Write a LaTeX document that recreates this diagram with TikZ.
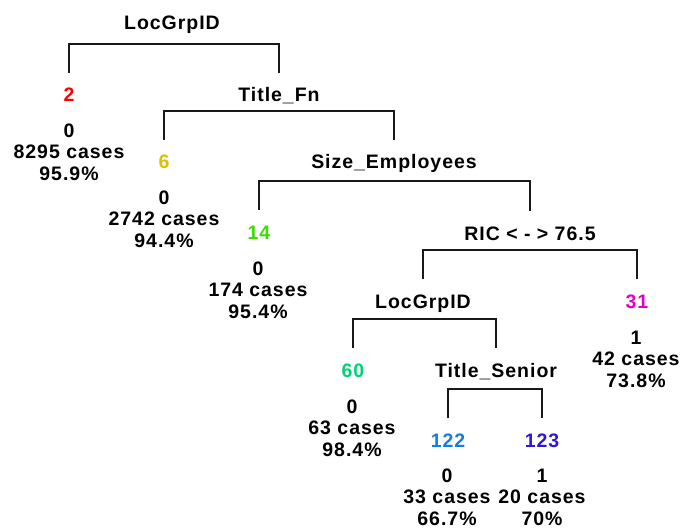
\documentclass[tikz,border=0pt]{standalone}
\usepackage{fontspec}
\newfontfamily\treefont[LetterSpace=5]{Liberation Sans}
\definecolor{cA}{RGB}{255,0,0}
\definecolor{cB}{RGB}{226,190,0}
\definecolor{cC}{RGB}{60,220,0}
\definecolor{cD}{RGB}{0,210,120}
\definecolor{cE}{RGB}{225,0,200}
\definecolor{cF}{RGB}{20,125,225}
\definecolor{cG}{RGB}{50,20,225}
\definecolor{lineC}{RGB}{25,25,25}
\newcommand\mybracket[2]{\draw[brk] ([yshift=22pt]#1.center) -- ([yshift=51pt]#1.center) -| ([yshift=22pt]#2.center);}
\begin{document}
\begin{tikzpicture}[x=1pt,y=1pt,
  lbl/.style={font=\treefont\bfseries\fontsize{19.5}{21.5}\selectfont, inner sep=0pt, text height=14pt, text depth=0pt},
  info/.style={font=\treefont\bfseries\fontsize{19.5}{21.5}\selectfont, inner sep=0pt, align=center},
  brk/.style={draw=lineC, line width=1.1pt}]
\useasboundingbox (0,0) rectangle (684,-529);
% split labels
\node[lbl] (s1) at (172,-23) {LocGrpID};
\node[lbl] (s2) at (279,-95) {Title\_Fn};
\node[lbl] (s3) at (394,-162) {Size\_Employees};
\node[lbl] (s4) at (530,-233) {RIC < - > 76.5};
\node[lbl] (s5) at (423,-301) {LocGrpID};
\node[lbl] (s6) at (496,-370) {Title\_Senior};
% leaves
\node[lbl,text=cA] (n2) at (69,-95) {2};
\node[lbl,text=cB] (n6) at (164,-162) {6};
\node[lbl,text=cC] (n14) at (259,-232) {14};
\node[lbl,text=cE] (n31) at (637,-301) {31};
\node[lbl,text=cD] (n60) at (353,-370) {60};
\node[lbl,text=cF] (n122) at (448,-440) {122};
\node[lbl,text=cG] (n123) at (542,-440) {123};
% leaf info
\node[info] (i2) at (69,-152) {0\\8295 cases\\95.9\%};
\node[info] (i6) at (164,-219) {0\\2742 cases\\94.4\%};
\node[info] (i14) at (258,-290) {0\\174 cases\\95.4\%};
\node[info] (i31) at (636,-359) {1\\42 cases\\73.8\%};
\node[info] (i60) at (352,-428) {0\\63 cases\\98.4\%};
\node[info] (i122) at (447,-497) {0\\33 cases\\66.7\%};
\node[info] (i123) at (542,-497) {1\\20 cases\\70\%};
% brackets
\mybracket{n2}{s2}
\mybracket{n6}{s3}
\mybracket{n14}{s4}
\mybracket{s5}{n31}
\mybracket{n60}{s6}
\mybracket{n122}{n123}
\end{tikzpicture}
\end{document}
